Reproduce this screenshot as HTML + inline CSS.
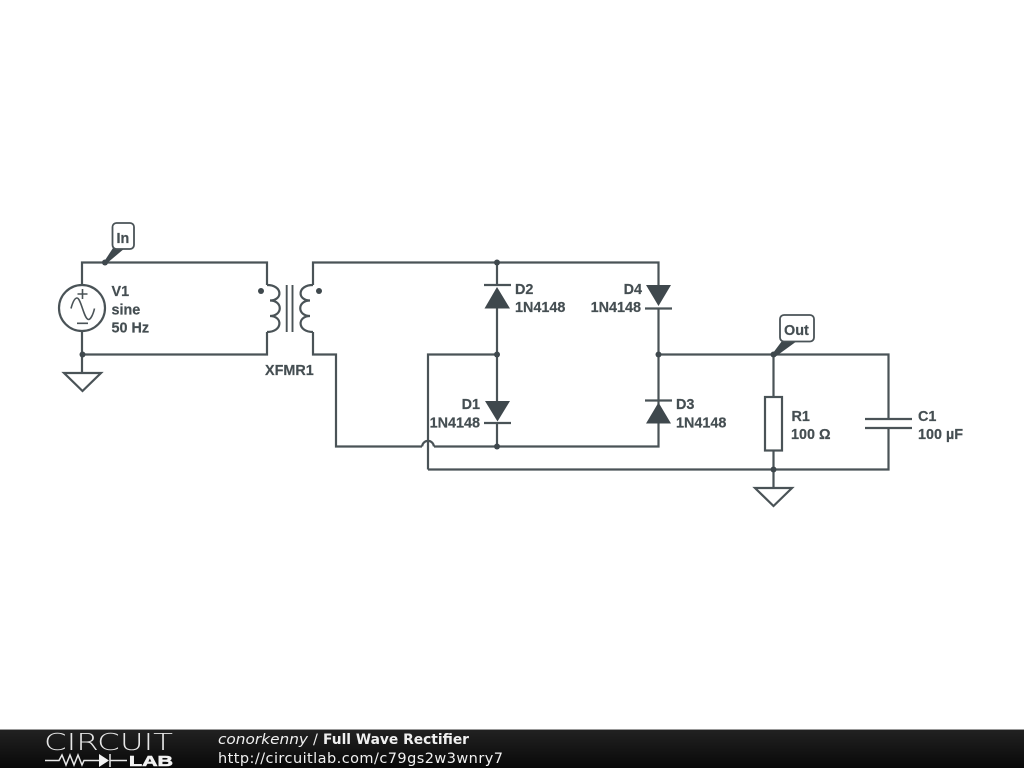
<!DOCTYPE html>
<html><head><meta charset="utf-8"><style>
html,body{margin:0;padding:0;background:#fff;width:1024px;height:768px;overflow:hidden}
svg{display:block}
.w{fill:none;stroke:#4a5357;stroke-width:2.200}
.d{fill:#3f484d;stroke:none}
.t{font-family:"Liberation Sans",sans-serif;font-weight:bold;font-size:14.400px;fill:#454e52;stroke:#454e52;stroke-width:.2}
.f{font-family:"DejaVu Sans",sans-serif;font-size:14.500px;fill:#f0f0f0}
</style></head><body>
<svg width="1024" height="768" viewBox="0 0 1024 768" xmlns="http://www.w3.org/2000/svg">
<defs><linearGradient id="g" x1="0" y1="0" x2="0" y2="1"><stop offset="0" stop-color="#222"/><stop offset="1" stop-color="#080808"/></linearGradient></defs>
<rect width="1024" height="768" fill="#fff"/>
<path class="w" d="M82 285V262.500H267V285M267 332V354.500H82M82 331V373M313 285V262.500H658.500V285M313 332V354.500H336V446.500H422M434 446.500H658.500V401M658.500 308V401M497 262.500V285M497 308V401M497 423V446.500M428 469.500V354.500H497M658.500 354.500H888.500V419M888.500 428V469.500H428M773.500 354.500V397M773.500 450V488"/>
<path class="w" d="M422 446.500C423 439 433 439 434 446.500"/>
<circle class="w" cx="82" cy="308" r="23"/>
<path class="w" style="stroke-width:1.600" d="M71 308.500C73 301 75 298 77 298C81 298 84 319.500 88.500 319.500C90.500 319.500 93 315 94.500 308.500M82.500 289V299M77.500 294H87.500M77 323.300H88"/>
<path class="w" d="M64 373H101L82.500 391Z"/>
<path class="w" d="M755 488H792L773.500 506Z"/>
<path class="w" d="M267 285C283 285 283 300.500 270 300.500C283 300.500 283 316 270 316C283 316 283 332 267 332M313 285C297 285 297 300.500 310 300.500C297 300.500 297 316 310 316C297 316 297 332 313 332"/>
<path class="w" style="stroke-width:1.900" d="M286.700 285V332M292.500 285V332"/>
<circle class="d" cx="261" cy="291" r="3"/><circle class="d" cx="319" cy="291" r="3"/>
<path class="d" d="M497 287L510 308.500H484.500Z"/><path class="w" d="M484 285H511"/>
<path class="d" d="M485 401H510L497.500 421.500Z"/><path class="w" d="M484 423H511"/>
<path class="d" d="M646 285H671L658.500 306Z"/><path class="w" d="M645 308.500H672"/>
<path class="d" d="M658.500 402.500L671 423.500H646Z"/><path class="w" d="M645 400.500H672"/>
<rect class="w" x="765" y="397" width="17" height="53.500" style="fill:#fff"/>
<path class="w" d="M865 419H912M865 428H912"/>
<g class="d"><circle cx="105" cy="262.500" r="3"/><circle cx="82.500" cy="354.500" r="3"/><circle cx="497" cy="262.500" r="3"/><circle cx="497" cy="354.500" r="3"/><circle cx="497" cy="446.500" r="3"/><circle cx="658.500" cy="354.500" r="3"/><circle cx="773.500" cy="354.500" r="3"/><circle cx="773.500" cy="469.500" r="3"/></g>
<path class="d" d="M104.500 261L113 248H125L106 264Z"/>
<path class="d" d="M773 353L782 341H797L775 357Z"/>
<rect x="112.500" y="223" width="21.500" height="26" rx="4" fill="#fff" stroke="#4a5357" stroke-width="1.800"/>
<rect x="780" y="315" width="34" height="26.500" rx="4" fill="#fff" stroke="#4a5357" stroke-width="1.800"/>
<text class="t" x="116.500" y="243">In</text>
<text class="t" x="784" y="335">Out</text>
<text class="t" x="111.500" y="296">V1</text>
<text class="t" x="111.500" y="314.500">sine</text>
<text class="t" x="111.500" y="332.500">50 Hz</text>
<text class="t" x="265" y="375">XFMR1</text>
<text class="t" x="515" y="294">D2</text>
<text class="t" x="515" y="312">1N4148</text>
<text class="t" x="642" y="294" text-anchor="end">D4</text>
<text class="t" x="641" y="312" text-anchor="end">1N4148</text>
<text class="t" x="480" y="409" text-anchor="end">D1</text>
<text class="t" x="480" y="427.500" text-anchor="end">1N4148</text>
<text class="t" x="676" y="409">D3</text>
<text class="t" x="676" y="427.500">1N4148</text>
<text class="t" x="791.500" y="421">R1</text>
<text class="t" x="791" y="439">100 Ω</text>
<text class="t" x="918" y="421">C1</text>
<text class="t" x="918" y="439">100 µF</text>
<rect y="729" width="1024" height="39" fill="url(#g)"/>
<rect y="729" width="1024" height="1" fill="#999"/>
<text x="44" y="750" font-family="DejaVu Sans,Liberation Sans,sans-serif" font-weight="200" font-size="23" textLength="129" lengthAdjust="spacingAndGlyphs" fill="#e6e6e6">CIRCUIT</text>
<path fill="none" stroke="#e8e8e8" stroke-width="1.500" d="M45 760.500H59L62 755L66 765L70 755L74 765L78 755L82 765L84 760.500H99M110 760.500H127M110 754V767"/>
<path fill="#f2f2f2" d="M99 754L109 760.500L99 767Z"/>
<text x="129" y="766" font-family="Liberation Sans,sans-serif" font-weight="bold" font-size="14.500" textLength="44" lengthAdjust="spacingAndGlyphs" fill="#f2f2f2" stroke="#f2f2f2" stroke-width=".6">LAB</text>
<text class="f" x="218" y="744" font-style="italic" textLength="90" lengthAdjust="spacingAndGlyphs">conorkenny</text>
<text class="f" x="313" y="744">/</text>
<text class="f" x="323" y="744" font-weight="bold" fill="#fff" textLength="146" lengthAdjust="spacingAndGlyphs">Full Wave Rectifier</text>
<text class="f" x="218" y="763" textLength="285" lengthAdjust="spacing">http://circuitlab.com/c79gs2w3wnry7</text>
</svg>
</body></html>
